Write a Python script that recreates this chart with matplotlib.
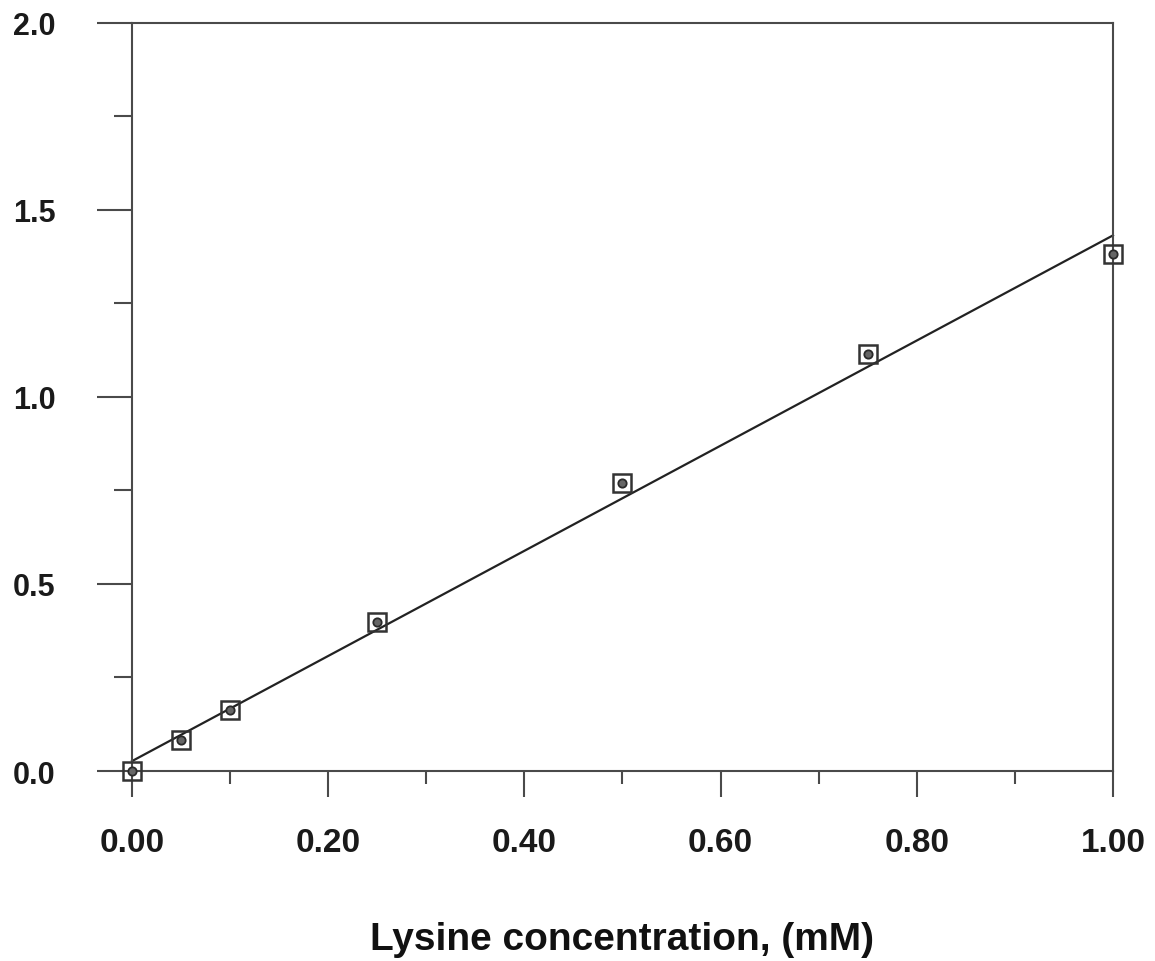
import numpy as np
import matplotlib
matplotlib.use("Agg")
import matplotlib.pyplot as plt
from matplotlib.ticker import MultipleLocator, FormatStrFormatter

# lysine standard curve
lysine_mm = [0.0, 0.05, 0.10, 0.25, 0.50, 0.75, 1.00]
response = [0.0, 0.083, 0.162, 0.398, 0.770, 1.115, 1.382]
x_label = "Lysine concentration, (mM)"

plt.rcParams['font.family'] = ['Liberation Sans', 'DejaVu Sans']
plt.rcParams['font.weight'] = 'bold'

fig = plt.figure(figsize=(11.55, 9.62), dpi=100)
ax = fig.add_axes([0.1143, 0.1975, 0.8493, 0.7776])

# least squares line through the points
slope, icpt = np.polyfit(lysine_mm, response, 1)
xf = np.array([min(lysine_mm), max(lysine_mm)])
ax.plot(xf, slope * xf + icpt, color='#222222', lw=1.6, clip_on=False)

ax.plot(lysine_mm, response, ls='none', marker='s', ms=13.5, mfc='none',
        mec='#333333', mew=1.8, clip_on=False, zorder=3)
ax.plot(lysine_mm, response, ls='none', marker='o', ms=6, mfc='#666666',
        mec='#2a2a2a', mew=1.3, clip_on=False, zorder=4)

ax.set_xlim(0, 1.0)
ax.set_ylim(0, 2.0)

ax.xaxis.set_major_locator(MultipleLocator(0.2))
ax.xaxis.set_minor_locator(MultipleLocator(0.1))
ax.yaxis.set_major_locator(MultipleLocator(0.5))
ax.yaxis.set_minor_locator(MultipleLocator(0.25))
ax.xaxis.set_major_formatter(FormatStrFormatter('%.2f'))
ax.yaxis.set_major_formatter(FormatStrFormatter('%.1f'))

for s in ax.spines.values():
    s.set_color('#4a4a4a')
    s.set_linewidth(1.5)

ax.tick_params(axis='x', which='major', direction='out', length=19, width=1.5,
               color='#4a4a4a', pad=21, labelsize=24)
ax.tick_params(axis='x', which='minor', direction='out', length=9, width=1.5,
               color='#4a4a4a')
ax.tick_params(axis='y', which='major', direction='out', length=25, width=1.5,
               color='#4a4a4a', pad=30, labelsize=22)
ax.tick_params(axis='y', which='minor', direction='out', length=13, width=1.5,
               color='#4a4a4a')

for lab in ax.get_xticklabels() + ax.get_yticklabels():
    lab.set_fontweight('bold')
    lab.set_color('#1a1a1a')

ax.set_xlabel(x_label, fontsize=28, fontweight='bold', labelpad=46, color='#111111')

fig.savefig('out.png', dpi=100, facecolor='white')
